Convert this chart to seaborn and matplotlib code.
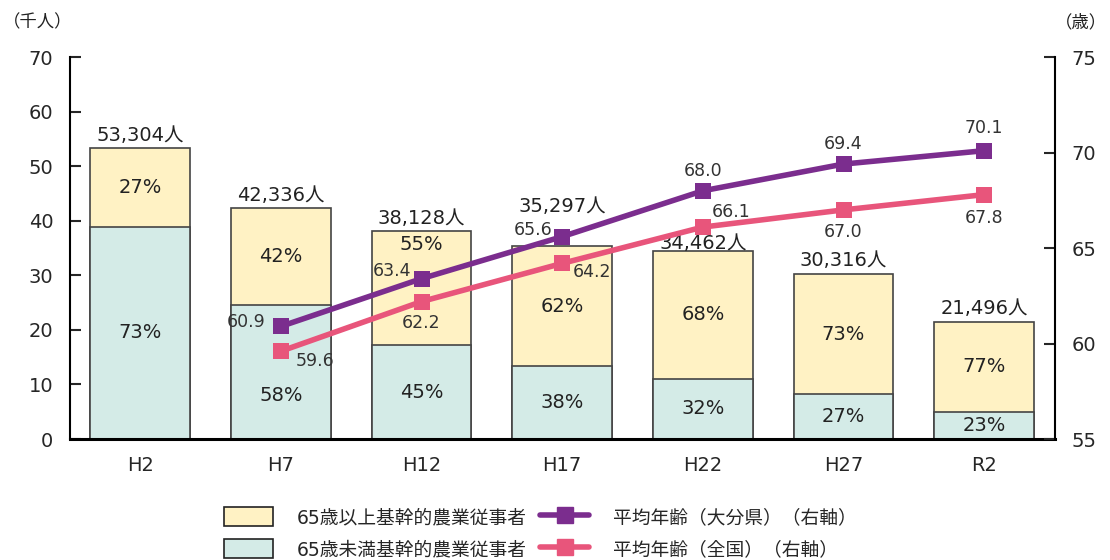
import numpy as np
import pandas as pd
import matplotlib
matplotlib.use("Agg")
import matplotlib.pyplot as plt
import seaborn as sns
from matplotlib.patches import Patch
from matplotlib.lines import Line2D

years = ["H2", "H7", "H12", "H17", "H22", "H27", "R2"]
total_k = [53.304, 42.336, 38.128, 35.297, 34.462, 30.316, 21.496]
total_labels = ["53,304人", "42,336人", "38,128人", "35,297人", "34,462人", "30,316人", "21,496人"]
pct_over65 = [27, 42, 55, 62, 68, 73, 77]
pct_under65 = [73, 58, 45, 38, 32, 27, 23]
age_years = ["H7", "H12", "H17", "H22", "H27", "R2"]
age_oita = [60.9, 63.4, 65.6, 68.0, 69.4, 70.1]
age_japan = [59.6, 62.2, 64.2, 66.1, 67.0, 67.8]

sns.set_style("white")
plt.rcParams['font.family'] = ['DejaVu Sans', 'Noto Sans CJK JP']

c_over = "#FFF2C4"
c_under = "#D4EBE7"
c_oita = "#7B2D8E"
c_japan = "#E8557B"
txt = "#222222"

under_k = [t * p / 100 for t, p in zip(total_k, pct_under65)]
df = pd.DataFrame({"year": years, "total": total_k, "under": under_k})

fig = plt.figure(figsize=(11.1, 5.6), dpi=100)
ax = fig.add_axes([0.063, 0.216, 0.887, 0.682])

sns.barplot(data=df, x="year", y="total", color=c_over, width=0.71,
            edgecolor="#444444", linewidth=1.2, saturation=1, ax=ax)
sns.barplot(data=df, x="year", y="under", color=c_under, width=0.71,
            edgecolor="#444444", linewidth=1.2, saturation=1, ax=ax)

ax.set_xlim(-0.5, 6.5)
ax.set_ylim(0, 70)
ax.set_yticks(range(0, 71, 10))
ax.set_xlabel("")
ax.set_ylabel("")
ax.tick_params(axis="y", direction="in", length=8, width=1.5, labelsize=14, pad=12)
ax.tick_params(axis="x", length=0, labelsize=14, pad=12)
ax.set_xticks(np.arange(0.5, 6.5, 1), minor=True)
ax.tick_params(axis="x", which="minor", direction="in", length=8, width=1.5)
for s in ["top", "right"]:
    ax.spines[s].set_visible(False)
ax.spines["left"].set_linewidth(1.5)
ax.spines["bottom"].set_linewidth(2.2)
for s in ["left", "bottom"]:
    ax.spines[s].set_color("black")

# labels on bars (H17 label lifted above the line, H22 sits close to the bar)
label_gap = [0.6, 0.6, 0.6, 5.5, -0.3, 0.6, 0.6]
for i in range(len(years)):
    t = total_k[i]
    u = under_k[i]
    ax.text(i, t + label_gap[i], total_labels[i], ha="center", va="bottom", fontsize=14, color=txt)
    if i == 2:
        oy = t - 2.4
    else:
        oy = (t + u) / 2
    ax.text(i, oy, f"{pct_over65[i]}%", ha="center", va="center", fontsize=14, color=txt)
    uy = 8 if i == 1 else u / 2
    ax.text(i, uy, f"{pct_under65[i]}%", ha="center", va="center", fontsize=14, color=txt)

# right axis: average age
ax2 = ax.twinx()
age_df = pd.DataFrame({"x": [years.index(y) for y in age_years],
                       "oita": age_oita, "japan": age_japan})
sns.lineplot(data=age_df, x="x", y="japan", color=c_japan, lw=4, marker="s",
             markersize=11, markeredgewidth=0, ax=ax2)
sns.lineplot(data=age_df, x="x", y="oita", color=c_oita, lw=4, marker="s",
             markersize=11, markeredgewidth=0, ax=ax2)
ax2.set_ylim(55, 75)
ax2.set_yticks(range(55, 76, 5))
ax2.set_xlim(-0.5, 6.5)
ax2.set_xlabel("")
ax2.set_ylabel("")
ax2.tick_params(axis="y", direction="in", length=8, width=1.5, labelsize=14, pad=12)
for s in ["top", "left", "bottom"]:
    ax2.spines[s].set_visible(False)
ax2.spines["right"].set_linewidth(1.5)
ax2.spines["right"].set_color("black")

oita_off = [(-0.25, 0.25), (-0.21, 0.4), (-0.21, 0.35), (0, 1.05), (0, 1.05), (0, 1.2)]
japan_off = [(0.24, -0.5), (0, -1.1), (0.21, -0.45), (0.2, 0.8), (0, -1.15), (0, -1.2)]
for k in range(len(age_years)):
    x = years.index(age_years[k])
    dx, dy = oita_off[k]
    ax2.text(x + dx, age_oita[k] + dy, f"{age_oita[k]:.1f}", ha="center", va="center",
             fontsize=12.5, color="#333333")
    dx, dy = japan_off[k]
    ax2.text(x + dx, age_japan[k] + dy, f"{age_japan[k]:.1f}", ha="center", va="center",
             fontsize=12.5, color="#333333")

fig.text(0.003, 0.961, "（千人）", fontsize=12.5, ha="left", va="center", color=txt)
fig.text(0.997, 0.961, "（歳）", fontsize=12.5, ha="right", va="center", color=txt)

handles = [
    Patch(facecolor=c_over, edgecolor="#222222", linewidth=1.2, label="65歳以上基幹的農業従事者"),
    Patch(facecolor=c_under, edgecolor="#222222", linewidth=1.2, label="65歳未満基幹的農業従事者"),
    Line2D([0], [0], color=c_oita, lw=4, marker="s", markersize=11, label="平均年齢（大分県）（右軸）"),
    Line2D([0], [0], color=c_japan, lw=4, marker="s", markersize=11, label="平均年齢（全国）（右軸）"),
]
fig.legend(handles=handles, ncol=2, loc="center", bbox_to_anchor=(0.487, 0.048),
           frameon=False, fontsize=13.5, handlelength=2.6, handleheight=1.2,
           columnspacing=0.7, labelspacing=0.65, handletextpad=1.3)

fig.savefig("out.png", dpi=100)
